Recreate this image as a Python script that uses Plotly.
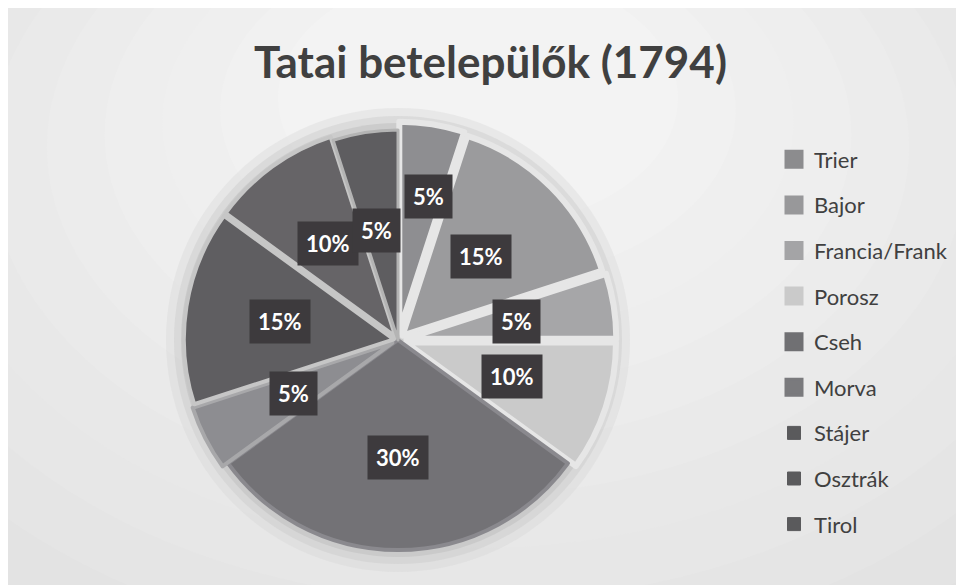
import math
import plotly.graph_objects as go

# ---- data ----
labels = ["Trier", "Bajor", "Francia/Frank", "Porosz", "Cseh", "Morva", "Stájer", "Osztrák", "Tirol"]
values = [5, 15, 5, 10, 30, 5, 15, 10, 5]
title_text = "Tatai betelepülők (1794)"

# ---- style ----
W, H = 964, 585
fill_colors = ["#8e8e91", "#9b9b9d", "#a6a6a8", "#cacaca", "#737276", "#8d8d91", "#5f5e61", "#666467", "#5e5d60"]
legend_colors = ["#8c8c8e", "#98989a", "#a4a4a6", "#cacaca", "#707073", "#7a7a7d", "#5a5a5c", "#5a5a5c", "#5a5a5c"]
legend_sizes = [16, 16, 16, 16, 16, 16, 13, 13, 13]
legend_lw = [3, 3, 3, 3, 3, 3, 1, 1, 1]
line_colors = ["#e6e6e6", "#e6e6e6", "#e6e6e6", "#e6e6e6", "#8a898e", "#a8a8aa", "#c6c6c6", "#c6c6c6", "#b4b4b4"]
line_widths = [6, 6, 6, 6, 4, 4, 4, 4, 3]
pulls = [0.04, 0.03, 0.04, 0.04, 0.0, 0.03, 0.02, 0.02, 0.0]
label_frac = [0.65, 0.53, 0.53, 0.53, 0.56, 0.53, 0.55, 0.55, 0.53]
label_nudge_x = [8, 0, 0, 0, 0, 0, 0, 0, -4]

# pie placement in figure pixels
PCX, PCY, PR = 390.0, 332.0, 210.0
half = PR * (1 + max(pulls))
dom_x = [(PCX - half) / W, (PCX + half) / W]
dom_y = [1 - (PCY + half) / H, 1 - (PCY - half) / H]


def px(x):
    return x / W


def py(y):
    return 1 - y / H


fig = go.Figure()
fig.add_trace(go.Pie(
    labels=labels,
    values=values,
    sort=False,
    direction="clockwise",
    rotation=0,
    pull=pulls,
    textinfo="none",
    showlegend=False,
    hovertemplate="%{label}: %{percent}<extra></extra>",
    marker=dict(colors=fill_colors, line=dict(color=line_colors, width=line_widths)),
    domain=dict(x=dom_x, y=dom_y),
))

# legend entries (one per category)
for lab, col, sz, lw in zip(labels, legend_colors, legend_sizes, legend_lw):
    fig.add_trace(go.Scatter(
        x=[None], y=[None], mode="markers", name=lab, legendgroup=lab,
        marker=dict(symbol="square", size=sz, color=col, line=dict(width=lw, color=col)),
        hoverinfo="skip", showlegend=True,
    ))

# background frame with soft radial lightening
shapes = [
    dict(type="rect", xref="paper", yref="paper", x0=px(0.5), x1=1.02, y0=-0.02, y1=py(2),
         fillcolor="#e1e1e1", line=dict(color="#c2c2c2", width=1), layer="below"),
]
steps = 10
for k in range(steps):
    t = k / (steps - 1)
    rx = 720 - t * 520
    ry = 500 - t * 370
    ecy = 200 - t * 110
    g = int(round(0xe3 + t * (0xf3 - 0xe3)))
    col = f"#{g:02x}{g:02x}{g:02x}"
    shapes.append(dict(type="circle", xref="paper", yref="paper",
                       x0=px(470 - rx), x1=px(470 + rx), y0=py(ecy + ry), y1=py(ecy - ry),
                       fillcolor=col, line=dict(width=0), layer="below"))
# soft shadow around pie
for extra, col, op in [(22, "#d0d0d0", 0.3), (14, "#c8c8c8", 0.4), (7, "#bebebe", 0.5)]:
    shapes.append(dict(type="circle", xref="paper", yref="paper",
                       x0=px(PCX - PR - extra), x1=px(PCX + PR + extra),
                       y0=py(PCY + PR + extra), y1=py(PCY - PR - extra),
                       fillcolor=col, opacity=op, line=dict(width=0), layer="below"))

# percentage labels in dark boxes, positioned from the data angles
total = sum(values)
annotations = []
cum = 0
for i, v in enumerate(values):
    mid = (cum + v / 2) / total * 2 * math.pi
    cum += v
    r = PR * (label_frac[i] + pulls[i])
    annotations.append(dict(
        x=px(PCX + math.sin(mid) * r + label_nudge_x[i]), y=py(PCY - math.cos(mid) * r),
        xref="paper", yref="paper",
        text=f"{round(v / total * 100)}%", showarrow=False,
        font=dict(family="Lato", size=22, color="white", weight="bold"),
        bgcolor="#3d3a3d", borderpad=8, xanchor="center", yanchor="middle",
    ))

annotations.append(dict(
    x=px(482), y=py(53), xref="paper", yref="paper", showarrow=False,
    text=title_text, font=dict(family="Lato", size=44, color="#404040", weight="bold"),
    xanchor="center", yanchor="middle",
))

fig.update_layout(
    width=W, height=H,
    margin=dict(l=0, r=0, t=0, b=0),
    paper_bgcolor="white",
    plot_bgcolor="rgba(0,0,0,0)",
    xaxis=dict(visible=False),
    yaxis=dict(visible=False),
    shapes=shapes,
    annotations=annotations,
    showlegend=True,
    legend=dict(
        x=px(766), y=py(130.5), xanchor="left", yanchor="top",
        font=dict(family="Lato", size=22, color="#404040"),
        bgcolor="rgba(0,0,0,0)", itemclick=False, itemdoubleclick=False,
        itemsizing="trace", tracegroupgap=14,
    ),
)

fig.write_html("out.html")
